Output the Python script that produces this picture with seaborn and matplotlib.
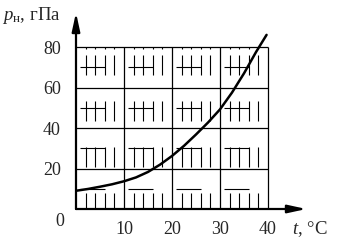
import matplotlib
matplotlib.use("Agg")
import matplotlib.pyplot as plt
import seaborn as sns
import pandas as pd

# ---- data ----
t_vals = [0, 2.5, 5, 7.5, 10, 12.5, 15, 17.5, 20, 22.5, 25, 27.5, 30, 32.5, 35, 37.5, 39.7]
p_vals = [9.0, 9.9, 11.0, 12.2, 13.7, 15.6, 18.3, 21.9, 26.2, 31.2, 36.8, 42.7, 49.2, 57.5, 67.0, 77.5, 86.0]

x_major = [10, 20, 30, 40]
y_major = [20, 40, 60, 80]
x_minor = [2, 4, 6, 8, 12, 14, 16, 18, 22, 24, 26, 28, 32, 34, 36, 38]
y_minor = [10, 30, 50, 70]
x_labels = ["10", "20", "30", "40"]
y_labels = ["20", "40", "60", "80"]

sns.set_style("white")
plt.rcParams["font.family"] = ["Liberation Serif", "DejaVu Serif"]
plt.rcParams["mathtext.fontset"] = "custom"
plt.rcParams["mathtext.rm"] = "Liberation Serif"
plt.rcParams["mathtext.it"] = "Liberation Serif:italic"
plt.rcParams["lines.scale_dashes"] = False

W, H = 337, 242
fig = plt.figure(figsize=(W / 100, H / 100), dpi=100)
fig.patch.set_facecolor("white")
ax = fig.add_axes([76 / W, 33 / H, 230.4 / W, 196.4 / H])
ax.set_xlim(0, 48)
ax.set_ylim(0, 97)
for s in ax.spines.values():
    s.set_visible(False)

px = 0.72  # points per pixel
# minor dashed grid
v_dash = (0, (2 * px, 6 * px, 20 * px, 26 * px, 20 * px, 26 * px, 20 * px, 26 * px, 20 * px, 40 * px))
ax.vlines(x_minor, 80, 0, colors="black", linewidth=0.8, linestyles=[v_dash])
h_dash = (44 * px, (25 * px, 23 * px))
ax.hlines(y_minor, 0, 40, colors="black", linewidth=0.8, linestyles=[h_dash])
# major grid
ax.vlines(x_major, 0, 80, colors="black", linewidth=0.9)
ax.hlines(y_major, 0, 40, colors="black", linewidth=0.9)

df = pd.DataFrame({"t": t_vals, "p": p_vals})
sns.lineplot(data=df, x="t", y="p", ax=ax, color="black", linewidth=1.8, zorder=5)

# axes with arrows
arrow = dict(arrowstyle="-|>,head_length=0.55,head_width=0.12", lw=1.6, color="black",
             shrinkA=0, shrinkB=0, mutation_scale=20)
ax.annotate("", xy=(48, 0), xytext=(0, 0), arrowprops=arrow, annotation_clip=False)
ax.annotate("", xy=(0, 97), xytext=(0, 0), arrowprops=arrow, annotation_clip=False)

ax.set_xticks(x_major, x_labels)
ax.set_yticks(y_major, y_labels)
ax.tick_params(axis="both", length=0, labelsize=13)
ax.tick_params(axis="x", pad=9)
ax.tick_params(axis="y", pad=11)
ax.set_xlabel("")
ax.set_ylabel("")
ax.text(-3.3, -6.3, "0", ha="center", va="center", fontsize=13)

fig.text(2 / W, 1 - 20 / H, r"$p_{\mathrm{н}}$, гПа", fontsize=13.5, ha="left", va="baseline")
fig.text(292 / W, 1 - 234 / H, r"$t$, °C", fontsize=13.5, ha="left", va="baseline")

fig.savefig("out.png", dpi=100, facecolor="white")
